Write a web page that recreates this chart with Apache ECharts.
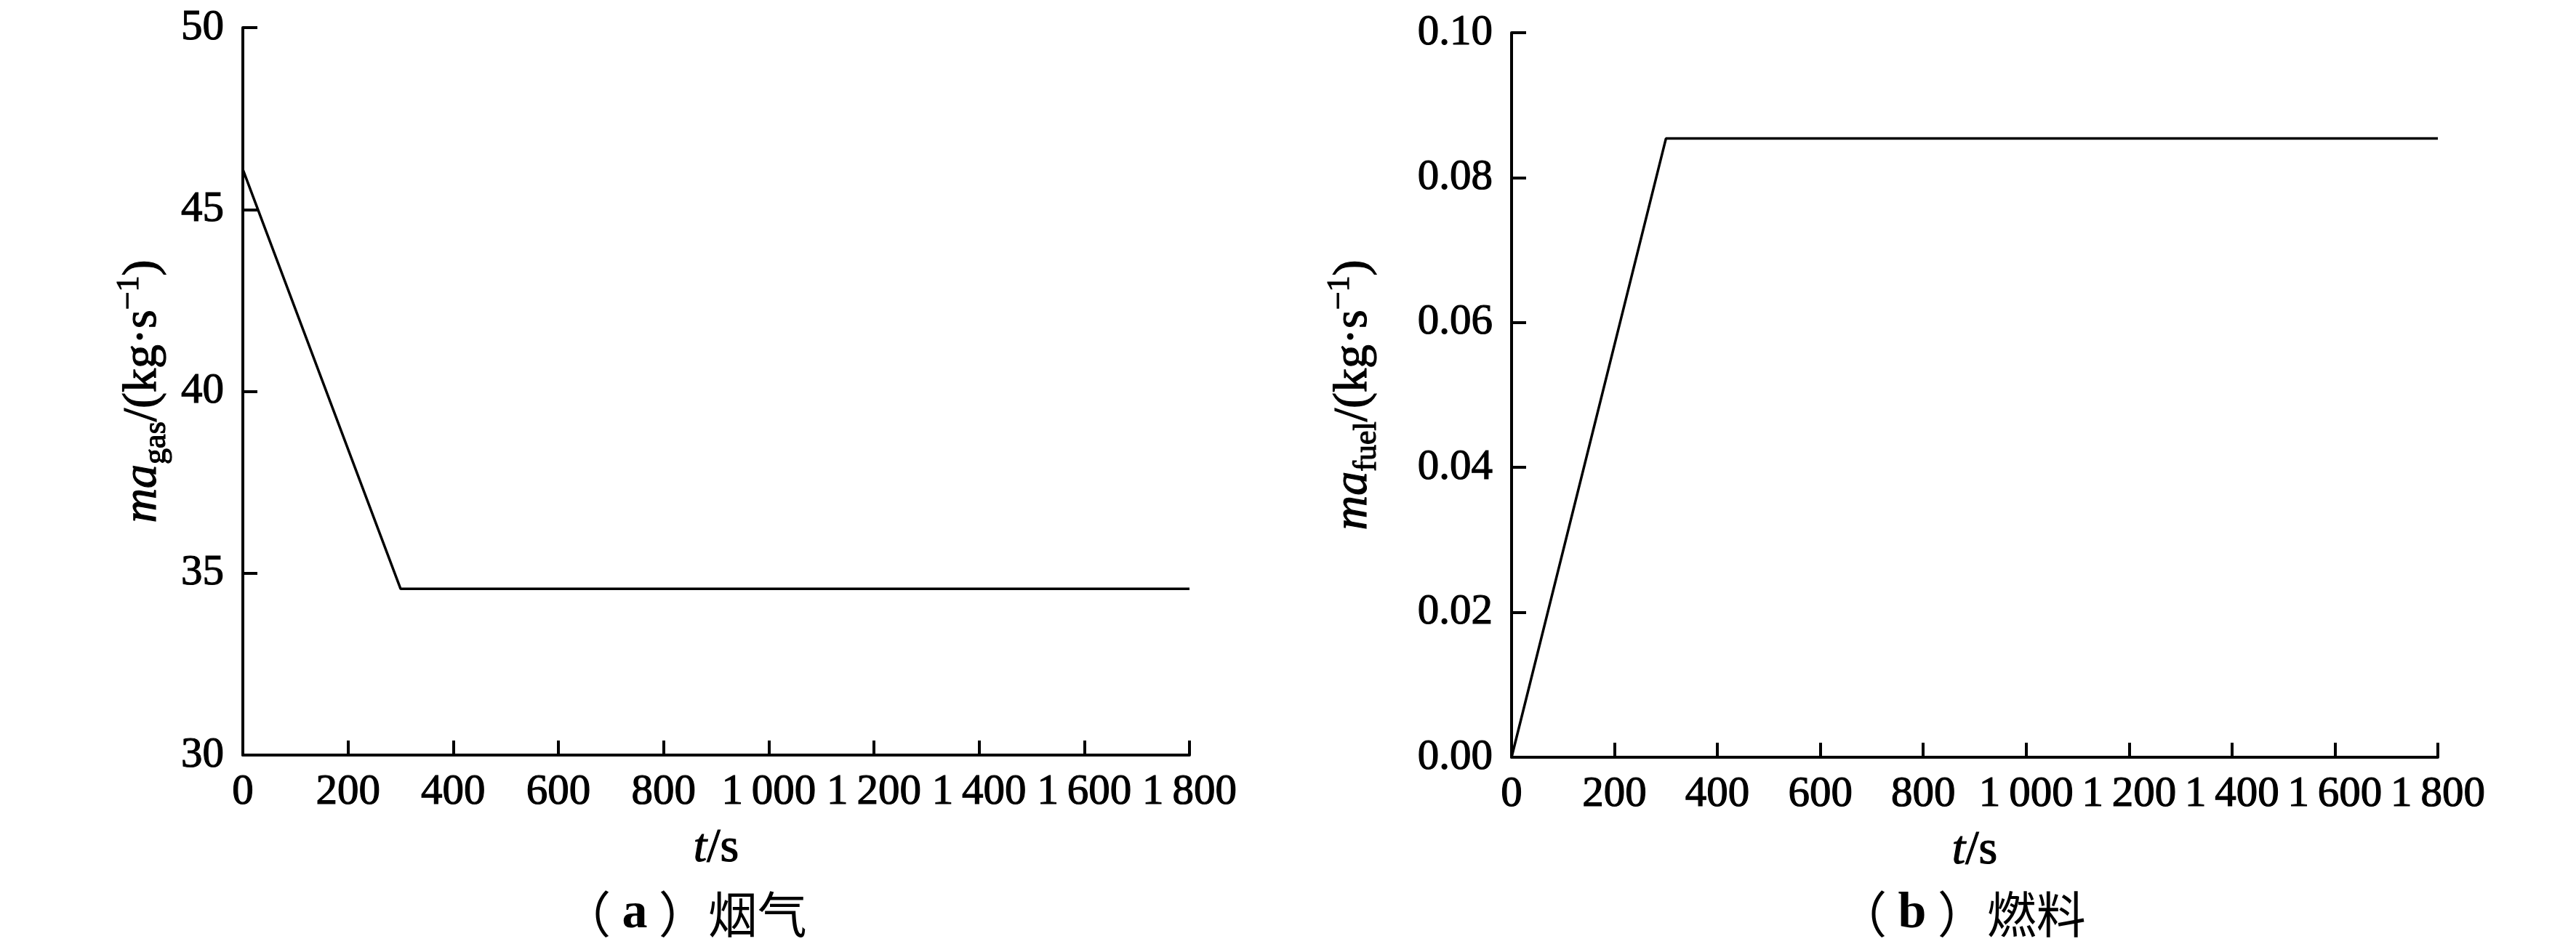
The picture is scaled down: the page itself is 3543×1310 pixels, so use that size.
<!DOCTYPE html>
<html>
<head>
<meta charset="utf-8">
<script src="https://cdn.jsdelivr.net/npm/echarts@6/dist/echarts.min.js"></script>
<style>html,body{margin:0;padding:0;background:#fff}#c{width:3543px;height:1310px}</style>
</head>
<body>
<div id="c"></div>
<script>
// ---- data ----
const tGas = [0, 300, 1800];
const gasFlow = [46.1, 34.57, 34.57];
const tFuel = [0, 300, 1800];
const fuelFlow = [0, 0.0854, 0.0854];
const xTicks = [0, 200, 400, 600, 800, 1000, 1200, 1400, 1600, 1800];
const gasTicks = [30, 35, 40, 45, 50];
const fuelTicks = [0, 0.02, 0.04, 0.06, 0.08, 0.10];
const captionLetters = ['a', 'b'];
const captionTexts = ['烟气', '燃料'];

const SERIF = "'Liberation Serif', 'Times New Roman', serif";
const FS = 59;
const THICK = { textBorderColor: '#000', textBorderWidth: 1.2 };
const fmtX = v => {
  const s = String(v);
  return s.length > 3 ? s.slice(0, s.length - 3) + '\u2009' + s.slice(-3) : s;
};
const axisCommon = {
  axisLine: { show: true, lineStyle: { color: '#000', width: 4 } },
  axisTick: { show: true, inside: true, length: 20, lineStyle: { color: '#000', width: 4 } },
  splitLine: { show: false },
  axisLabel: Object.assign({ color: '#000', fontFamily: SERIF, fontSize: FS }, THICK),
};
const richName = {
  i: Object.assign({ fontFamily: SERIF, fontSize: 66, fontStyle: 'italic', color: '#000' }, THICK),
  n: Object.assign({ fontFamily: SERIF, fontSize: 66, color: '#000' }, THICK),
  sub: Object.assign({ fontFamily: SERIF, fontSize: 44, color: '#000', padding: [36, 0, 0, 0] }, THICK),
  sup: Object.assign({ fontFamily: SERIF, fontSize: 44, color: '#000', padding: [0, 0, 38, 0] }, THICK)
};
const richCap = {
  p: { fontFamily: "'Noto Sans CJK SC'", fontSize: 68, fill: '#000' },
  b: { fontFamily: SERIF, fontSize: 70, fontWeight: 'bold', fill: '#000' }
};

const chart = echarts.init(document.getElementById('c'), null, { renderer: 'canvas' });
chart.setOption({
  backgroundColor: '#fff',
  animation: false,
  grid: [
    { left: 334, right: 1907, top: 38, bottom: 271 },
    { left: 2079, right: 190, top: 45, bottom: 268 }
  ],
  xAxis: [0, 1].map(g => Object.assign({}, axisCommon, {
    type: 'value', gridIndex: g, min: xTicks[0], max: xTicks[xTicks.length - 1], interval: 200,
    axisLabel: Object.assign({}, axisCommon.axisLabel, { margin: 22, formatter: fmtX }),
    name: '{i|t}{n|/s}', nameLocation: 'middle', nameGap: 96,
    nameTextStyle: { rich: richName }
  })),
  yAxis: [
    Object.assign({}, axisCommon, {
      type: 'value', gridIndex: 0, min: gasTicks[0], max: gasTicks[gasTicks.length - 1], interval: 5,
      axisLabel: Object.assign({}, axisCommon.axisLabel, { margin: 26 }),
      name: '{i|ma}{sub|gas}{n|/(kg·s}{sup|−1}{n|)}', nameLocation: 'middle', nameRotate: 90, nameGap: 96,
      nameTextStyle: { rich: richName }
    }),
    Object.assign({}, axisCommon, {
      type: 'value', gridIndex: 1, min: fuelTicks[0], max: fuelTicks[fuelTicks.length - 1], interval: 0.02,
      axisLabel: Object.assign({}, axisCommon.axisLabel, { margin: 26, formatter: v => v.toFixed(2) }),
      name: '{i|ma}{sub|fuel}{n|/(kg·s}{sup|−1}{n|)}', nameLocation: 'middle', nameRotate: 90, nameGap: 176,
      nameTextStyle: { rich: richName }
    })
  ],
  series: [
    { type: 'line', xAxisIndex: 0, yAxisIndex: 0, data: tGas.map((t, i) => [t, gasFlow[i]]),
      showSymbol: false, lineStyle: { color: '#000', width: 3.5 } },
    { type: 'line', xAxisIndex: 1, yAxisIndex: 1, data: tFuel.map((t, i) => [t, fuelFlow[i]]),
      showSymbol: false, lineStyle: { color: '#000', width: 3.5 } }
  ],
  graphic: [0, 1].map((k, idx) => ({
    type: 'text', x: idx === 0 ? 941 : 2698, y: 1258,
    style: { text: '{p|（ }{b|' + captionLetters[k] + '}{p| ）' + captionTexts[k] + '}', rich: richCap, textAlign: 'center', textVerticalAlign: 'middle' }
  }))
});
</script>
</body>
</html>
